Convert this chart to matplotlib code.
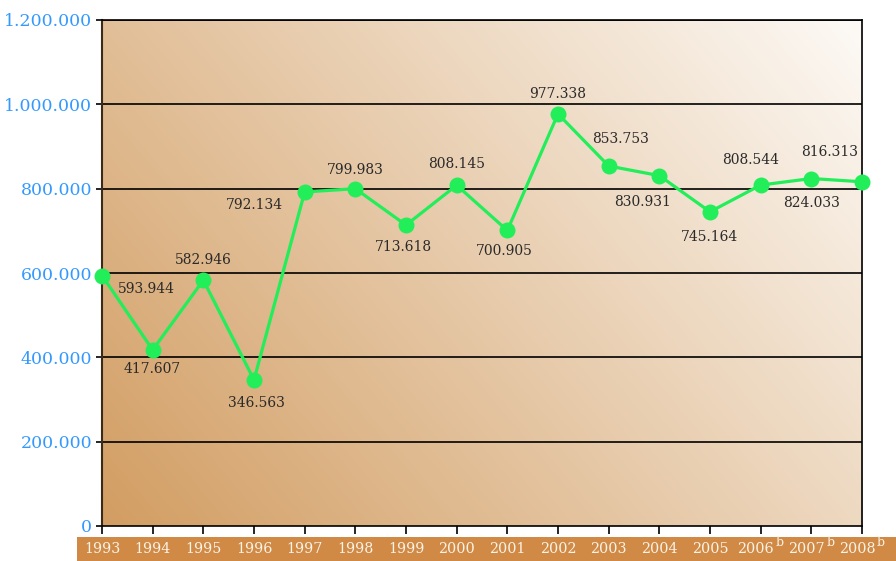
import numpy as np
import matplotlib
matplotlib.use("Agg")
import matplotlib.pyplot as plt
from matplotlib.patches import Rectangle

years = ["1993", "1994", "1995", "1996", "1997", "1998", "1999", "2000",
         "2001", "2002", "2003", "2004", "2005", "2006", "2007", "2008"]
superscripts = ["", "", "", "", "", "", "", "", "", "", "", "", "", "b", "b", "b"]
values = [593944, 417607, 582946, 346563, 792134, 799983, 713618, 808145,
          700905, 977338, 853753, 830931, 745164, 808544, 824033, 816313]
value_labels = ["593.944", "417.607", "582.946", "346.563", "792.134", "799.983",
                "713.618", "808.145", "700.905", "977.338", "853.753", "830.931",
                "745.164", "808.544", "824.033", "816.313"]
# label offsets in pixels (dx, dy) relative to each point
label_offsets = [(44, -13), (0, -19), (0, 20), (2, -23), (-50, -13), (0, 19),
                 (-3, -22), (0, 21), (-3, -21), (0, 20), (12, 27), (-17, -26),
                 (0, -25), (-10, 25), (0, -24), (-32, 30)]
y_ticks = [0, 200000, 400000, 600000, 800000, 1000000, 1200000]
y_tick_labels = ["0", "200.000", "400.000", "600.000", "800.000", "1.000.000", "1.200.000"]

W, H = 896, 561
fig = plt.figure(figsize=(W / 100, H / 100), dpi=100)
fig.patch.set_facecolor("white")

# bottom bar for year labels
fig.patches.append(Rectangle((77 / W, 0), 1 - 77 / W, 24 / H, transform=fig.transFigure,
                             facecolor="#D08A45", edgecolor="none", zorder=0))

ax = fig.add_axes([102 / W, 1 - 526 / H, 760 / W, 506 / H])
ax.set_zorder(2)

x = np.arange(len(years))
ax.set_xlim(0, len(years) - 1)
ax.set_ylim(0, 1200000)

# gradient background
n = 300
gx, gy = np.meshgrid(np.linspace(0, 1, n), np.linspace(0, 1, n))
t = 0.64 * gx + 0.36 * gy
t = np.clip(t, 0, 1)
c0 = np.array([210, 157, 98]) / 255
c1 = np.array([253, 250, 246]) / 255
img = c0[None, None, :] * (1 - t[..., None]) + c1[None, None, :] * t[..., None]
ax.imshow(img, extent=[0, len(years) - 1, 0, 1200000], origin="lower",
          aspect="auto", zorder=0, interpolation="bilinear")

# grid
for yv in y_ticks[1:]:
    ax.axhline(yv, color="black", lw=1.2, zorder=1)

ax.plot(x, values, color="#22EE5A", lw=2.3, marker="o", markersize=11.5,
        markeredgewidth=0, zorder=3, clip_on=False)

for xi, v, lab, (dx, dy) in zip(x, values, value_labels, label_offsets):
    ax.annotate(lab, (xi, v), xytext=(dx, dy), textcoords="offset pixels",
                ha="center", va="center", fontsize=10, family="DejaVu Serif",
                color="#2a2a2a", zorder=4)

ax.set_yticks(y_ticks)
ax.set_yticklabels(y_tick_labels, family="DejaVu Serif", fontsize=12.5, color="#3399FF")
ax.set_xticks(x)
ax.set_xticklabels([])
ax.tick_params(axis="y", direction="out", length=4, width=1.2, pad=3, color="black")
ax.tick_params(axis="x", direction="out", length=6, width=1.2, color="black")

# year labels inside the bottom bar, with superscripts
for xi, yr, s in zip(x, years, superscripts):
    dx = -5 if s else 0
    ax.annotate(yr, (xi, 0), xytext=(dx, -23), textcoords="offset pixels",
                ha="center", va="center", fontsize=10.3, family="DejaVu Serif",
                color="#FAF3E8", annotation_clip=False)
    if s:
        ax.annotate(s, (xi, 0), xytext=(15, -16), textcoords="offset pixels",
                    ha="left", va="center", fontsize=9, family="DejaVu Serif",
                    color="#FAF3E8", annotation_clip=False)

for s in ["left", "right", "top", "bottom"]:
    ax.spines[s].set_color("black")
    ax.spines[s].set_linewidth(1.2)
ax.spines["left"].set_color("#3a2a1a")
ax.spines["left"].set_linewidth(1.5)

fig.savefig("out.png", dpi=100)
